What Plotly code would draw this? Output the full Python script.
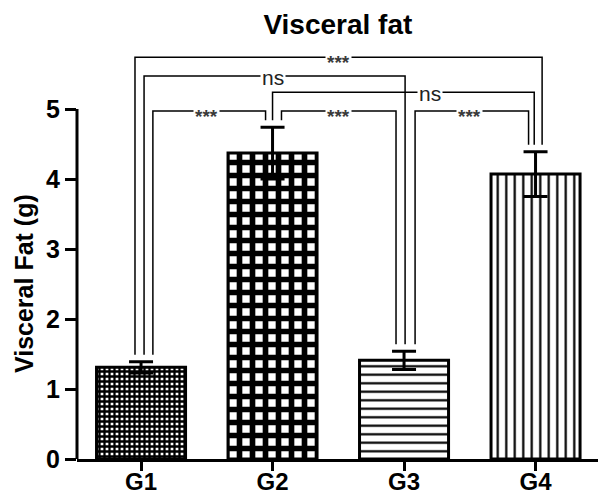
import plotly.graph_objects as go

# ---- data ----
groups = ["G1", "G2", "G3", "G4"]
means = [1.31, 4.37, 1.41, 4.07]
errors = [0.08, 0.37, 0.13, 0.32]

# significance comparisons (index pairs) and labels
comp_left = [0, 1, 2, 0, 1, 0]
comp_right = [1, 2, 3, 2, 3, 3]
comp_labels = ["***", "***", "***", "ns", "ns", "***"]

# ---- styling / layout helpers ----
FONT = "Liberation Sans, Arial, sans-serif"
patterns = [
    dict(shape="+", fgcolor="black", bgcolor="white", size=5, solidity=0.7, fgopacity=1),
    dict(shape="+", fgcolor="black", bgcolor="white", size=13, solidity=0.68, fgopacity=1),
    dict(shape="-", fgcolor="black", bgcolor="white", size=8.5, solidity=0.26, fgopacity=1),
    dict(shape="|", fgcolor="black", bgcolor="white", size=8.5, solidity=0.26, fgopacity=1),
]
bracket_levels = [4.97, 4.97, 4.97, 5.47, 5.24, 5.74]
leg_off_left = [0.09, 0.068, 0.084, 0.023, 0.0, -0.046]
leg_off_right = [-0.053, -0.061, -0.053, 0.008, -0.01, 0.05]
label_shift = [0, 0, 0, 0, 0.2, 0]
leg_gap = 0.1

fig = go.Figure()
for i, g in enumerate(groups):
    fig.add_trace(go.Bar(
        x=[g], y=[means[i]],
        width=0.677,
        marker=dict(color="white", pattern=patterns[i],
                    line=dict(color="black", width=3)),
        error_y=dict(type="data", array=[errors[i]], visible=True,
                     color="black", thickness=3, width=12),
        showlegend=False,
    ))

shapes = []
annotations = []
for k in range(len(comp_left)):
    a, b = comp_left[k], comp_right[k]
    lvl = bracket_levels[k]
    xa = a + leg_off_left[k]
    xb = b + leg_off_right[k]
    ya = means[a] + errors[a] + leg_gap
    yb = means[b] + errors[b] + leg_gap
    path = f"M {xa},{ya} L {xa},{lvl} L {xb},{lvl} L {xb},{yb}"
    shapes.append(dict(type="path", path=path, xref="x", yref="y",
                       line=dict(color="black", width=1.5)))
    is_star = comp_labels[k] == "***"
    annotations.append(dict(
        x=(a + b) / 2 + label_shift[k], y=lvl, xref="x", yref="y",
        text=comp_labels[k], showarrow=False,
        font=dict(family=FONT, size=19 if is_star else 21,
                  color="#3a3a3a" if is_star else "#222222",
                  weight="bold" if is_star else "normal"),
        bgcolor="white", borderpad=1,
        yshift=-5 if is_star else -1,
    ))

# y-axis line from 0 to 5 only
shapes.append(dict(type="line", xref="paper", yref="y", x0=0, x1=0, y0=0, y1=5,
                   line=dict(color="black", width=3)))

# y-axis title
annotations.append(dict(
    x=-0.1017, y=2.5, xref="paper", yref="y",
    text="Visceral Fat (g)", textangle=-90, showarrow=False,
    font=dict(family=FONT, size=25, color="black", weight="bold"),
    xanchor="center", yanchor="middle",
))

fig.update_layout(
    width=598, height=494,
    margin=dict(l=77, r=0, t=39, b=35),
    paper_bgcolor="white", plot_bgcolor="white",
    title=dict(text="Visceral fat", x=0.565, xanchor="center",
               y=1 - 24 / 494, yanchor="middle", yref="container",
               font=dict(family=FONT, size=28, color="black", weight="bold")),
    xaxis=dict(range=[-0.487, 3.475], showline=True, linecolor="black",
               linewidth=3, ticks="outside", ticklen=9, tickwidth=3,
               tickcolor="black", showgrid=False, zeroline=False,
               automargin=False, ticklabelstandoff=-10,
               tickfont=dict(family=FONT, size=24, color="black", weight="bold")),
    yaxis=dict(range=[0, 6], tickvals=[0, 1, 2, 3, 4, 5], showline=False,
               ticks="outside", ticklen=11, tickwidth=3, tickcolor="black",
               showgrid=False, zeroline=False, automargin=False,
               tickfont=dict(family=FONT, size=25, color="black", weight="bold")),
    shapes=shapes,
    annotations=annotations,
    bargap=0.3,
)

fig.write_html("out.html")
